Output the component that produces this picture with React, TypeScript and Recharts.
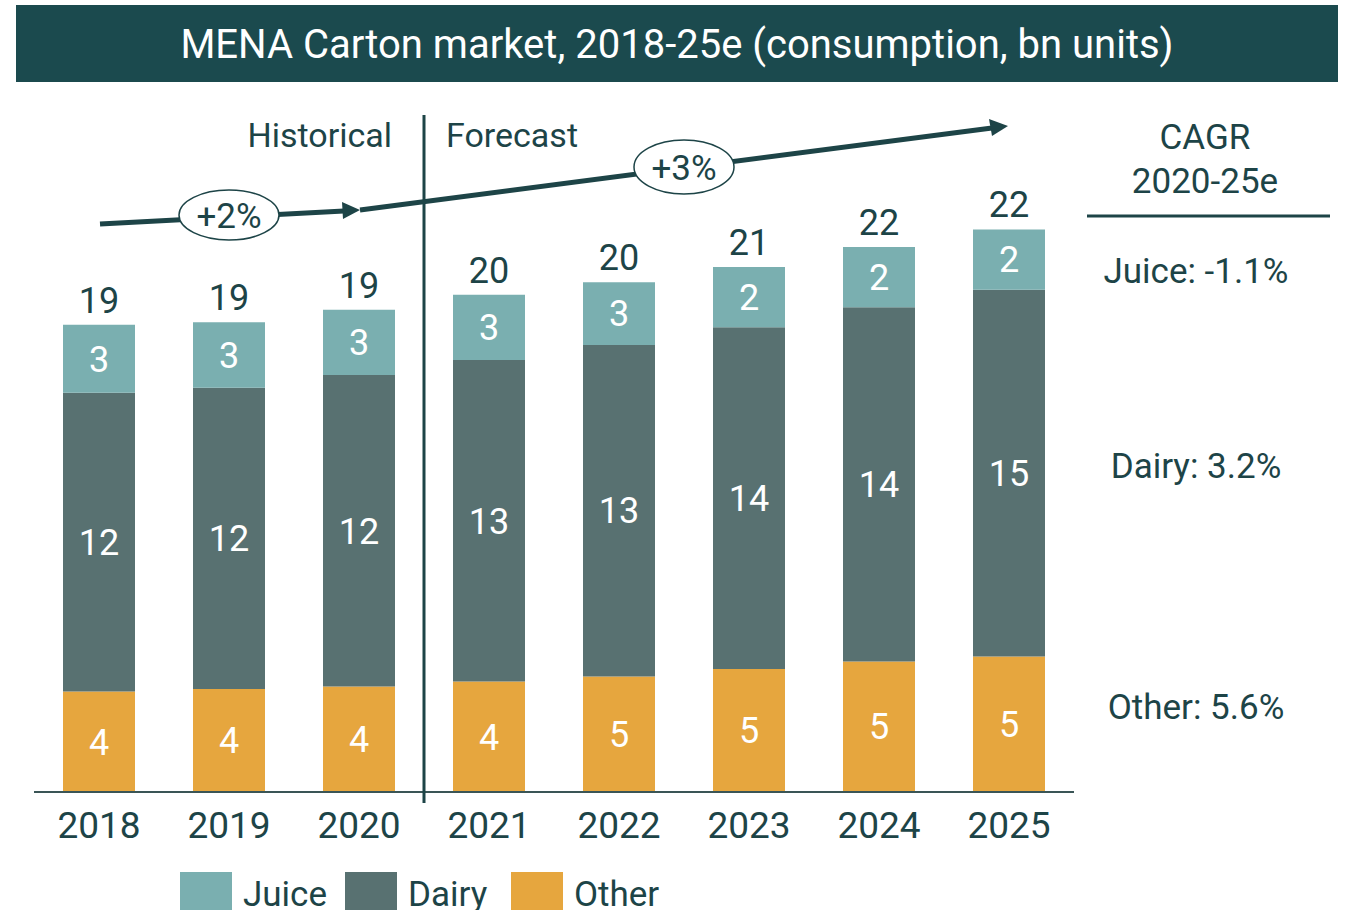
import React from 'react';
import { BarChart, Bar, XAxis, YAxis, LabelList } from 'recharts';

const YEARS = ['2018', '2019', '2020', '2021', '2022', '2023', '2024', '2025'];
const OTHER = [4.0, 4.1, 4.2, 4.4, 4.6, 4.9, 5.2, 5.4];
const DAIRY = [11.9, 12.0, 12.4, 12.8, 13.2, 13.6, 14.1, 14.6];
const JUICE = [2.7, 2.6, 2.6, 2.6, 2.5, 2.4, 2.4, 2.4];
const CAGR = [
  { label: 'Juice: -1.1%', y: 271 },
  { label: 'Dairy: 3.2%', y: 466 },
  { label: 'Other: 5.6%', y: 707 },
];

const C_JUICE = '#7aafb0';
const C_DAIRY = '#587171';
const C_OTHER = '#e6a63e';
const DARK = '#1d4447';
const FONT = 'Roboto, "Liberation Sans", sans-serif';

const data = YEARS.map((year, i) => ({
  year,
  other: OTHER[i],
  dairy: DAIRY[i],
  juice: JUICE[i],
  total: OTHER[i] + DAIRY[i] + JUICE[i],
}));

const round = (v: any) => Math.round(Number(v) + 1e-9);

const LEGEND = [
  { name: 'Juice', color: C_JUICE, x: 180 },
  { name: 'Dairy', color: C_DAIRY, x: 345 },
  { name: 'Other', color: C_OTHER, x: 511 },
];

export default function App() {
  return (
    <div style={{ position: 'absolute', left: 0, top: 0, width: 1345, height: 910, overflow: 'hidden', background: '#fff', fontFamily: FONT }}>
      <BarChart width={1345} height={910} data={data} margin={{ top: 139, right: 271, bottom: 88, left: 34 }} barCategoryGap={58}>
        <XAxis
          dataKey="year"
          axisLine={{ stroke: '#3a5556', strokeWidth: 2 }}
          tickLine={false}
          tick={{ fill: DARK, fontSize: 37, fontFamily: FONT }}
          dy={12}
        />
        <YAxis hide domain={[0, 26]} />
        <Bar dataKey="other" stackId="a" fill={C_OTHER} barSize={72} isAnimationActive={false}>
          <LabelList dataKey="other" position="center" formatter={round} fill="#fff" fontSize={36} fontFamily={FONT} />
        </Bar>
        <Bar dataKey="dairy" stackId="a" fill={C_DAIRY} barSize={72} isAnimationActive={false}>
          <LabelList dataKey="dairy" position="center" formatter={round} fill="#fff" fontSize={36} fontFamily={FONT} />
        </Bar>
        <Bar dataKey="juice" stackId="a" fill={C_JUICE} barSize={72} isAnimationActive={false}>
          <LabelList dataKey="juice" position="center" formatter={round} fill="#fff" fontSize={36} fontFamily={FONT} />
          <LabelList dataKey="total" position="top" offset={12} formatter={round} fill={DARK} fontSize={36} fontFamily={FONT} />
        </Bar>
      </BarChart>

      <svg width={1345} height={910} style={{ position: 'absolute', left: 0, top: 0, pointerEvents: 'none' }}>
        <rect x={16} y={5} width={1322} height={77} fill="#1b4a4e" />
        <text x={677} y={58} textAnchor="middle" fill="#fff" fontSize={40} fontFamily={FONT}>
          MENA Carton market, 2018-25e (consumption, bn units)
        </text>

        <line x1={424} y1={115} x2={424} y2={803} stroke={DARK} strokeWidth={3} />
        <text x={392} y={147} textAnchor="end" fill={DARK} fontSize={34} fontFamily={FONT}>Historical</text>
        <text x={446} y={147} fill={DARK} fontSize={34} fontFamily={FONT}>Forecast</text>

        <line x1={100} y1={224} x2={344} y2={211} stroke={DARK} strokeWidth={5} />
        <polygon points="360,210 342,202 343,219" fill={DARK} />
        <line x1={360} y1={210} x2={992} y2={128} stroke={DARK} strokeWidth={5} />
        <polygon points="1008,126 989,119 992,136" fill={DARK} />

        <ellipse cx={229} cy={215} rx={50} ry={25} fill="#fff" stroke={DARK} strokeWidth={1.5} />
        <text x={229} y={228} textAnchor="middle" fill={DARK} fontSize={35} fontFamily={FONT}>+2%</text>
        <ellipse cx={684} cy={167} rx={50} ry={27} fill="#fff" stroke={DARK} strokeWidth={1.5} />
        <text x={684} y={180} textAnchor="middle" fill={DARK} fontSize={35} fontFamily={FONT}>+3%</text>

        <text x={1205} y={149} textAnchor="middle" fill={DARK} fontSize={35} fontFamily={FONT}>CAGR</text>
        <text x={1205} y={193} textAnchor="middle" fill={DARK} fontSize={35} fontFamily={FONT}>2020-25e</text>
        <line x1={1087} y1={216} x2={1330} y2={216} stroke={DARK} strokeWidth={3} />
        {CAGR.map((c) => (
          <text key={c.label} x={1196} y={c.y + 12} textAnchor="middle" fill={DARK} fontSize={35} fontFamily={FONT}>{c.label}</text>
        ))}

        {LEGEND.map((l) => (
          <g key={l.name}>
            <rect x={l.x} y={872} width={52} height={40} fill={l.color} />
            <text x={l.x + 63} y={906} fill={DARK} fontSize={35} fontFamily={FONT}>{l.name}</text>
          </g>
        ))}
      </svg>
    </div>
  );
}
